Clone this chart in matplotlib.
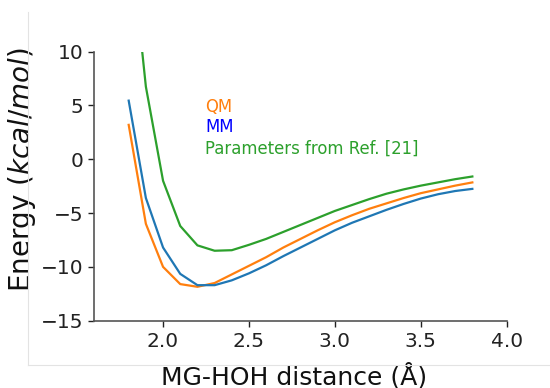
import matplotlib
matplotlib.use("Agg")
import matplotlib.pyplot as plt
from matplotlib.lines import Line2D

distance = [1.8, 1.9, 2.0, 2.1, 2.2, 2.3, 2.4, 2.5, 2.6, 2.7, 2.8, 2.9, 3.0,
            3.1, 3.2, 3.3, 3.4, 3.5, 3.6, 3.7, 3.8]
qm = [3.2, -6.0, -10.0, -11.6, -11.85, -11.5, -10.7, -9.9, -9.1, -8.2, -7.4,
      -6.6, -5.85, -5.2, -4.6, -4.1, -3.6, -3.15, -2.8, -2.45, -2.15]
mm = [5.45, -3.6, -8.2, -10.65, -11.7, -11.7, -11.25, -10.6, -9.85, -9.0,
      -8.2, -7.4, -6.6, -5.9, -5.3, -4.7, -4.15, -3.65, -3.25, -2.95, -2.75]
ref21 = [22.0, 6.75, -2.0, -6.2, -8.0, -8.5, -8.45, -7.95, -7.4, -6.75, -6.1,
         -5.45, -4.8, -4.25, -3.7, -3.2, -2.8, -2.45, -2.15, -1.85, -1.6]

labels = ["QM", "MM", "Parameters from Ref. [21]"]
xticks = [2.0, 2.5, 3.0, 3.5, 4.0]
yticks = [-15, -10, -5, 0, 5, 10]

fig = plt.figure(figsize=(5.5, 3.88), dpi=100)
ax = fig.add_axes([0.1715, 0.1735, 0.9213 - 0.1715, 0.8668 - 0.1735])

ax.plot(distance, qm, color="#ff7f0e", lw=1.6)
ax.plot(distance, mm, color="#1f77b4", lw=1.6)
ax.plot(distance, ref21, color="#2ca02c", lw=1.6)

ax.set_xlim(1.6, 4.0)
ax.set_ylim(-15, 10)
ax.set_xticks(xticks)
ax.set_yticks(yticks)
ax.tick_params(labelsize=14.5, colors="#222222", length=4.5, width=1.0)
for s in ["top", "right"]:
    ax.spines[s].set_visible(False)
for s in ["left", "bottom"]:
    ax.spines[s].set_color("#555555")
    ax.spines[s].set_linewidth(1.2)

ax.set_xlabel("MG-HOH distance (Å)", fontsize=18, color="#111111")
ax.xaxis.set_label_coords(0.484, -0.157)
ax.set_ylabel("Energy ($kcal/mol$)", fontsize=20, color="#111111")
ax.yaxis.set_label_coords(-0.137, 0.56)

text_colors = ["#ff7f0e", "#0000ff", "#2ca02c"]
text_y = [107, 127.5, 148.5]
for lab, c, ty in zip(labels, text_colors, text_y):
    fig.text(205 / 550, 1 - ty / 388, lab, color=c, fontsize=11.9,
             ha="left", va="center")

# light frame lines
fig.add_artist(Line2D([27.7 / 550, 27.7 / 550], [1 - 12 / 388, 1 - 365 / 388],
                      transform=fig.transFigure, color="#e3e3e3", lw=0.8))
fig.add_artist(Line2D([27.7 / 550, 1.0], [1 - 365 / 388, 1 - 365 / 388],
                      transform=fig.transFigure, color="#e3e3e3", lw=0.8))

fig.savefig("out.png", dpi=100)
